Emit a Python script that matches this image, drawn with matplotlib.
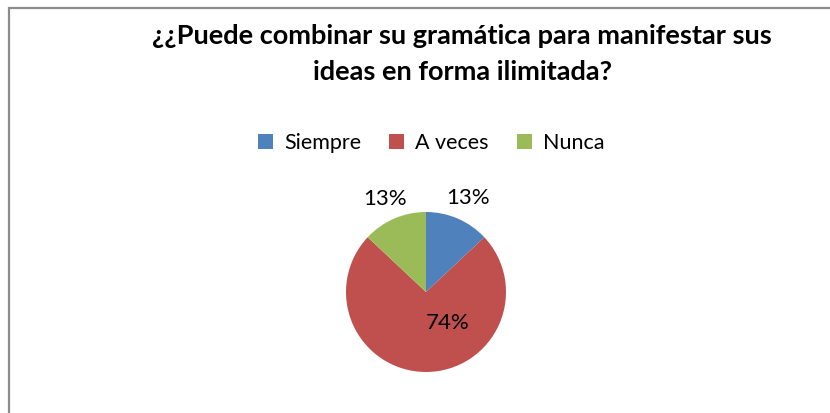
import matplotlib
matplotlib.use("Agg")
import matplotlib.pyplot as plt
from matplotlib.patches import Rectangle, Patch
import numpy as np

title = "¿¿Puede combinar su gramática para manifestar sus\nideas en forma ilimitada?"
categories = ["Siempre", "A veces", "Nunca"]
values = [13, 74, 13]
colors = ["#4F81BD", "#C0504D", "#9BBB59"]

W, H = 830, 413
fig = plt.figure(figsize=(W / 100, H / 100), dpi=100)
fig.patch.set_facecolor("white")

# outer chart border (extends past right/bottom edges)
fig.patches.append(Rectangle((8.5 / W, -0.1), 1.2, 1 - 7.5 / H + 0.1,
                             transform=fig.transFigure, fill=False,
                             edgecolor="#8c8c8c", linewidth=1.6))

fig.text(462 / W, 1 - 54 / H, title, ha="center", va="center",
         fontsize=19.5, fontweight="bold", family=["Lato", "DejaVu Sans"],
         linespacing=1.55)

# pie axes: center (426,292), radius 80 px
ax = fig.add_axes([346 / W, 1 - 372 / H, 160 / W, 160 / H])
wedges, _ = ax.pie(values, colors=colors, startangle=90, counterclock=False,
                   radius=1, wedgeprops=dict(linewidth=0))
ax.set_xlim(-1, 1)
ax.set_ylim(-1, 1)
ax.axis("off")

# label positions (relative to pie radius)
label_pos = [(0.525, 1.175), (0.275, -0.39), (-0.51, 1.16)]
for v, (x, y) in zip(values, label_pos):
    ax.text(x, y, f"{v}%", ha="center", va="center", fontsize=16,
            family=["Lato", "DejaVu Sans"], color="black", clip_on=False)

handles = [Patch(facecolor=c, edgecolor="none") for c in colors]
fig.legend(handles, categories, loc="center", bbox_to_anchor=(431 / W, 1 - 143 / H),
           ncol=3, frameon=False, prop={"family": "Lato", "size": 15.5},
           handlelength=0.72, handleheight=0.72, handletextpad=0.5, columnspacing=1.3)

fig.savefig("out.png", dpi=100, facecolor="white")
